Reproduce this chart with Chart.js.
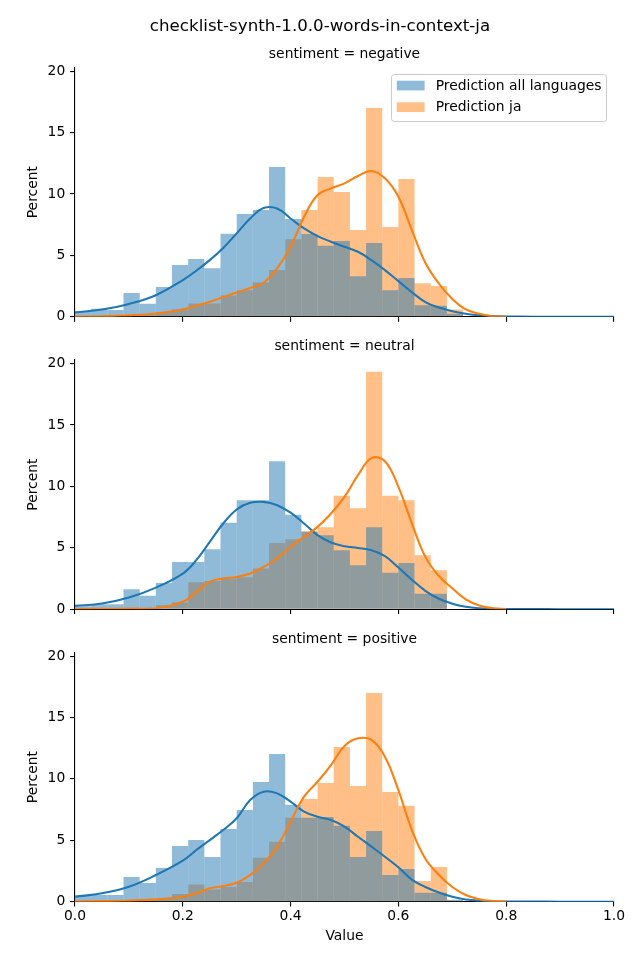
<!DOCTYPE html>
<html>
<head>
<meta charset="utf-8">
<script src="https://cdn.jsdelivr.net/npm/chart.js@4.4.1/dist/chart.umd.min.js"></script>
<style>
html,body{margin:0;padding:0;background:#ffffff;}
#wrap{position:relative;width:640px;height:960px;overflow:hidden;background:#fff;}
canvas{position:absolute;left:0;}
</style>
</head>
<body>
<div id="wrap">
<canvas id="c1" width="640" height="337" style="top:0px"></canvas>
<canvas id="c2" width="640" height="304" style="top:325px"></canvas>
<canvas id="c3" width="640" height="343" style="top:617px"></canvas>
</div>
<script>
// ---------------- data ----------------
const figureTitle = 'checklist-synth-1.0.0-words-in-context-ja';
const panelTitles = ['sentiment = negative', 'sentiment = neutral', 'sentiment = positive'];
const seriesLabels = ['Prediction all languages', 'Prediction ja'];
const xAxisTitle = 'Value';
const yAxisTitle = 'Percent';

// histogram bin centres (bin width 0.03)
const binCenters = [0.015,0.045,0.075,0.105,0.135,0.165,0.195,0.225,0.255,0.285,0.315,0.345,
                    0.375,0.405,0.435,0.465,0.495,0.525,0.555,0.585,0.615,0.645,0.675,0.705];

// percent per bin
const negAll = [0.45,0.65,0.55,1.93,1.06,2.42,4.21,4.70,3.96,6.76,8.36,8.69,12.19,7.95,6.73,5.78,6.16,3.31,6.00,2.17,3.15,0.95,0.90,0.25];
const negJa  = [0.05,0.05,0.05,0.15,0.20,0.40,0.60,1.09,1.09,1.74,2.17,2.80,3.80,6.32,8.69,11.37,10.15,7.06,16.99,7.30,11.21,2.74,2.50,0.60];
const neuAll = [0.25,0.41,0.41,1.63,1.09,2.14,3.85,3.85,4.89,7.03,8.88,8.88,12.05,7.68,6.30,6.03,4.80,3.58,6.68,2.96,3.77,1.25,1.25,0];
const neuJa  = [0.05,0.05,0.05,0.05,0.10,0.33,0.54,2.20,2.30,2.50,2.60,3.31,5.40,5.70,6.35,6.68,9.23,8.22,19.33,9.23,8.88,4.40,3.18,0];
const posAll = [0.46,0.54,0.54,2.01,1.52,2.74,4.53,5.02,3.64,5.92,7.46,9.74,12.02,7.90,6.84,6.89,6.19,3.64,5.75,2.17,2.66,0.73,0.73,0.15];
const posJa  = [0.03,0.03,0.03,0.05,0.18,0.22,0.62,1.41,1.00,1.19,1.60,3.58,4.89,6.84,8.36,9.66,12.60,9.42,16.99,8.93,7.82,1.68,2.82,0.10];

// KDE curves (percent density) sampled at kdeX
const kdeX = [0,0.05,0.1,0.15,0.2,0.225,0.25,0.275,0.3,0.325,0.35,0.375,0.4,0.425,0.45,0.475,0.5,0.525,0.55,0.575,0.6,0.625,0.65,0.675,0.7,0.725,0.75,0.775,0.8,0.85,0.9,1.0];
const kdeNegAll = [0.35,0.60,1.05,1.76,2.99,3.75,4.61,5.60,6.79,8.00,8.85,8.82,8.00,7.19,6.57,6.11,5.70,5.29,4.61,3.80,2.90,2.00,1.20,0.75,0.45,0.25,0.12,0.06,0.03,0.01,0,0];
const kdeNegJa  = [0.02,0.05,0.12,0.27,0.60,0.90,1.22,1.60,1.98,2.35,2.77,3.94,5.70,8.14,9.91,10.45,10.86,11.46,11.86,11.27,9.77,7.06,4.40,2.71,1.45,0.60,0.25,0.05,0.01,null,null,null];
const kdeNeuAll = [0.27,0.46,0.95,1.76,2.90,3.99,5.48,6.98,8.12,8.66,8.74,8.47,7.87,6.98,6.03,5.43,5.13,4.99,4.80,4.32,3.40,2.40,1.50,0.85,0.45,0.20,0.08,0.04,0.02,0.01,0,0];
const kdeNeuJa  = [0.02,0.03,0.05,0.08,0.60,1.41,2.23,2.50,2.63,2.90,3.45,4.13,5.08,5.89,6.70,7.79,9.15,10.91,12.30,12.05,9.96,6.98,4.26,2.70,1.70,0.80,0.30,0.08,0.02,null,null,null];
const kdePosAll = [0.41,0.68,1.22,2.17,3.34,4.21,5.02,5.84,6.79,8.28,8.96,8.82,8.14,7.33,6.92,6.65,6.11,5.29,4.48,3.66,2.80,1.80,1.20,0.75,0.40,0.18,0.08,0.04,0.02,0.01,0,0];
const kdePosJa  = [0.02,0.05,0.10,0.19,0.41,0.68,1.09,1.28,1.55,2.17,3.12,4.48,6.51,8.55,9.77,11.13,12.68,13.30,13.17,11.81,9.09,5.84,3.50,2.20,1.20,0.55,0.20,0.06,0.02,null,null,null];

const yTickStep = 5;
const xTickStep = 0.2;

// ---------------- styling ----------------
const BLUE = '#1f77b4', ORANGE = '#ff7f0e';
const BLUE_A = 'rgba(31,119,180,0.5)', ORANGE_A = 'rgba(255,127,14,0.5)';
const FS = 13.89;
const Y_MAX = 20.29;

Chart.defaults.font.family = "'DejaVu Sans', 'Liberation Sans', sans-serif";
Chart.defaults.font.size = FS;
Chart.defaults.color = '#000';

const insideLegend = {
  id: 'insideLegend',
  afterDraw(chart, args, o) {
    if (!o || !o.display) return;
    const ctx = chart.ctx, a = chart.chartArea;
    const items = chart.data.datasets.filter(d => d.type === 'bar').sort((p, q) => p.order - q.order);
    const fs = o.fontSize;
    ctx.save();
    ctx.font = fs + "px 'DejaVu Sans'";
    const tw = Math.max(...items.map(d => ctx.measureText(d.label).width));
    const pad = 0.4 * fs, hl = 2 * fs, hh = 0.7 * fs, tp = 0.8 * fs, axpad = 0.5 * fs;
    const ls = 0.5 * fs, rowH = o.rowH;
    const w = pad * 2 + hl + tp + tw;
    const h = pad * 2 + items.length * rowH + (items.length - 1) * ls;
    const right = a.right - axpad, top = a.top + axpad, left = right - w;
    const r = 0.2 * fs;
    const L = Math.round(left) + 0.5, T = Math.round(top) + 0.5, R = Math.round(right) - 0.5, B = Math.round(top + h) - 0.5;
    ctx.beginPath();
    ctx.moveTo(L + r, T);
    ctx.lineTo(R - r, T); ctx.quadraticCurveTo(R, T, R, T + r);
    ctx.lineTo(R, B - r); ctx.quadraticCurveTo(R, B, R - r, B);
    ctx.lineTo(L + r, B); ctx.quadraticCurveTo(L, B, L, B - r);
    ctx.lineTo(L, T + r); ctx.quadraticCurveTo(L, T, L + r, T);
    ctx.closePath();
    ctx.fillStyle = 'rgba(255,255,255,0.8)';
    ctx.fill();
    ctx.strokeStyle = '#cccccc';
    ctx.lineWidth = 1;
    ctx.stroke();
    items.forEach((d, i) => {
      const rowTop = top + pad + i * (rowH + ls);
      const py = rowTop + 0.7;
      ctx.fillStyle = d.backgroundColor;
      ctx.fillRect(left + pad, py, hl, hh);
      ctx.fillStyle = '#000';
      ctx.textBaseline = 'middle';
      ctx.textAlign = 'left';
      ctx.fillText(d.label, left + pad + hl + tp, py + hh / 2 + 0.5);
    });
    ctx.restore();
  }
};

function makePanel(id, p) {
  const lineCommon = { borderWidth: 2.08, pointRadius: 0, fill: false, tension: 0.4, spanGaps: false };
  const datasets = [
    Object.assign({ type: 'line', label: seriesLabels[1] + ' (KDE)', data: kdeX.map((x, i) => ({ x: x, y: p.kdeJa[i] })),
      borderColor: ORANGE, order: 0 }, lineCommon),
    Object.assign({ type: 'line', label: seriesLabels[0] + ' (KDE)', data: kdeX.map((x, i) => ({ x: x, y: p.kdeAll[i] })),
      borderColor: BLUE, order: 1 }, lineCommon),
    { type: 'bar', label: seriesLabels[0], data: binCenters.map((x, i) => ({ x: x, y: p.all[i] })),
      backgroundColor: BLUE_A, borderWidth: 0, barPercentage: 1, categoryPercentage: 1,
      grouped: false, inflateAmount: 0, order: 2 },
    { type: 'bar', label: seriesLabels[1], data: binCenters.map((x, i) => ({ x: x, y: p.ja[i] })),
      backgroundColor: ORANGE_A, borderWidth: 0, barPercentage: 1, categoryPercentage: 1,
      grouped: false, inflateAmount: 0, order: 3 }
  ];
  const axisGrid = { display: true, drawOnChartArea: false, drawTicks: true, tickLength: 4.86, color: '#000', lineWidth: 1.1 };
  const axisBorder = { display: true, color: '#000', width: 1.1 };
  const plugins = {
    legend: { display: false },
    tooltip: { enabled: false },
    title: p.title,
    insideLegend: { display: !!p.legend, fontSize: FS, rowH: 14.66 }
  };
  if (p.subtitle) plugins.subtitle = p.subtitle;
  return new Chart(document.getElementById(id), {
    type: 'bar',
    data: { datasets: datasets },
    plugins: [insideLegend],
    options: {
      responsive: false,
      animation: false,
      events: [],
      layout: { padding: { left: 26, right: 26, top: 0, bottom: 0 } },
      plugins: plugins,
      scales: {
        x: {
          type: 'linear', min: 0, max: 1, offset: false,
          grid: Object.assign({}, axisGrid, { offset: false }),
          border: axisBorder,
          ticks: { stepSize: xTickStep, display: p.showX, padding: 2.0, color: '#000',
                   font: { size: FS }, maxRotation: 0, autoSkip: false,
                   callback: v => Number(v).toFixed(1) },
          title: { display: p.showX, text: xAxisTitle, color: '#000', font: { size: FS },
                   padding: { top: 0, bottom: 14.77 } },
          afterFit: s => { s.height = p.xH; }
        },
        y: {
          type: 'linear', min: 0, max: Y_MAX,
          grid: axisGrid,
          border: axisBorder,
          ticks: { stepSize: yTickStep, includeBounds: false, padding: 4.86, color: '#000', font: { size: FS } },
          title: { display: true, text: yAxisTitle, color: '#000', font: { size: FS },
                   padding: { top: -0.8, bottom: 0 } },
          afterFit: s => { s.width = 49; }
        }
      }
    }
  });
}

const titleFont = { size: FS, weight: 'normal', lineHeight: 1.2 };

makePanel('c1', {
  all: negAll, ja: negJa, kdeAll: kdeNegAll, kdeJa: kdeNegJa, showX: false, xH: 337 - 316.8, legend: true,
  title: { display: true, fullSize: true, text: figureTitle, color: '#000',
           font: { size: 16.67, weight: 'normal', lineHeight: 1.2 }, padding: { top: 16.2, bottom: 0 } },
  subtitle: { display: true, fullSize: false, text: panelTitles[0], color: '#000', font: titleFont, padding: { top: 9.83, bottom: 4.8 } }
});
makePanel('c2', {
  all: neuAll, ja: neuJa, kdeAll: kdeNeuAll, kdeJa: kdeNeuJa, showX: false, xH: 629 - 609.2, legend: false,
  title: { display: true, fullSize: false, text: panelTitles[1], color: '#000', font: titleFont, padding: { top: 13.53, bottom: 4.8 } }
});
makePanel('c3', {
  all: posAll, ja: posJa, kdeAll: kdePosAll, kdeJa: kdePosJa, showX: true, xH: 960 - 901.7, legend: false,
  title: { display: true, fullSize: false, text: panelTitles[2], color: '#000', font: titleFont, padding: { top: 14.03, bottom: 4.8 } }
});
</script>
</body>
</html>
